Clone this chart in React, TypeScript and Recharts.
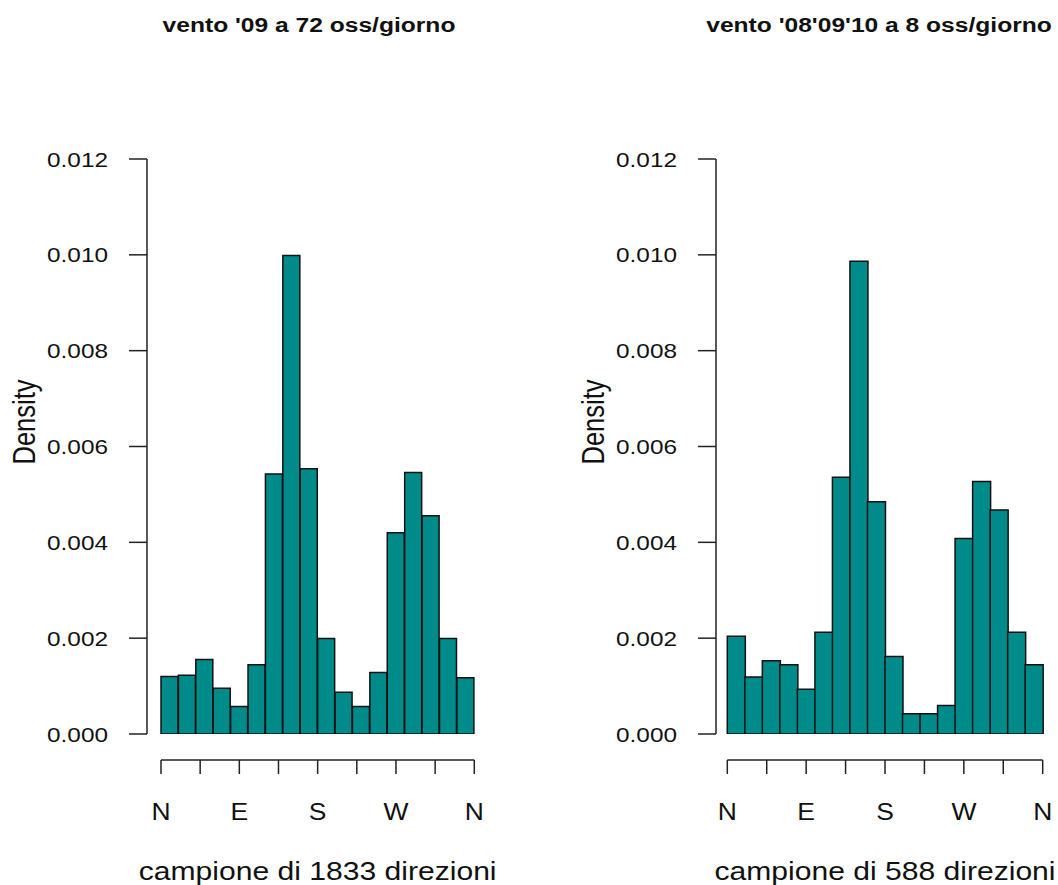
import React from 'react';
import { BarChart, Bar, XAxis, YAxis } from 'recharts';

// ---------- data ----------
const binLabels = [
  '0-20', '20-40', '40-60', '60-80', '80-100', '100-120', '120-140', '140-160', '160-180',
  '180-200', '200-220', '220-240', '240-260', '260-280', '280-300', '300-320', '320-340', '340-360',
];
const degTicks = [0, 45, 90, 135, 180, 225, 270, 315, 360];
const compassLabels: Record<number, string> = { 0: 'N', 90: 'E', 180: 'S', 270: 'W', 360: 'N' };
const densityTicks = [0, 0.002, 0.004, 0.006, 0.008, 0.01, 0.012];

const density1833 = [
  0.0012, 0.001227, 0.001555, 0.000955, 0.000573, 0.001446, 0.005428, 0.009984, 0.005537,
  0.001991, 0.000873, 0.000573, 0.001282, 0.004201, 0.005456, 0.004555, 0.001991, 0.001173,
];
const density588 = [
  0.002041, 0.00119, 0.001531, 0.001446, 0.000935, 0.002126, 0.005357, 0.009864, 0.004847,
  0.001616, 0.000425, 0.000425, 0.000595, 0.004082, 0.005272, 0.004677, 0.002126, 0.001446,
];

const mainTitles = ["vento '09 a 72 oss/giorno", "vento '08'09'10 a 8 oss/giorno"];
const xTitles = ['campione di 1833 direzioni', 'campione di 588 direzioni'];
const yTitle = 'Density';

// ---------- layout ----------
const W = 1058;
const H = 885;
const Y_ZERO = 734;
const Y_TOP_TICK = 159;
const X_AXIS_Y = 760;

const FONT = 'Liberation Sans, Arial, Helvetica, sans-serif';
const INK = '#111';
const LINE = '#222';
const FILL = '#008B8B';

const panels = [
  { data: density1833, axisX: 147, x0: 161, x360: 474.3, title: mainTitles[0], titleX: 309, xTitle: xTitles[0] },
  { data: density588, axisX: 716, x0: 727.3, x360: 1042.7, title: mainTitles[1], titleX: 879, xTitle: xTitles[1] },
];

const DensityTick = (props: any) => {
  const { x, y, payload } = props;
  return (
    <text
      transform={`translate(${x},${y}) scale(1.16,1)`}
      textAnchor="end"
      dy="0.358em"
      fontSize={21}
      fontFamily={FONT}
      fill={INK}
    >
      {Number(payload.value).toFixed(3)}
    </text>
  );
};

const CompassTick = (props: any) => {
  const { x, y, payload } = props;
  const lab = compassLabels[payload.value];
  if (!lab) return <g />;
  return (
    <text
      transform={`translate(${x},${y + 46}) scale(1.15,1)`}
      textAnchor="middle"
      fontSize={23}
      fontFamily={FONT}
      fill={INK}
    >
      {lab}
    </text>
  );
};

function Panel({ data, axisX, x0, x360 }: { data: number[]; axisX: number; x0: number; x360: number }) {
  const rows = binLabels.map((b, i) => ({ bin: b, d: data[i] }));
  const degRows = degTicks.map((d) => ({ deg: d }));
  const padPx = x0 - axisX;
  const plotRight = x360 + padPx;
  const yAxisW = 60;
  const xAxisH = 60;
  return (
    <>
      {/* bars + density axis */}
      <div style={{ position: 'absolute', left: 0, top: 0 }}>
        <BarChart
          width={W}
          height={H}
          data={rows}
          margin={{ top: Y_TOP_TICK, bottom: H - Y_ZERO, left: axisX - yAxisW, right: W - plotRight }}
          barCategoryGap={0}
          barGap={0}
        >
          <XAxis dataKey="bin" type="category" hide padding={{ left: padPx, right: padPx }} />
          <YAxis
            type="number"
            domain={[0, 0.012]}
            allowDataOverflow
            ticks={densityTicks}
            interval={0}
            width={yAxisW}
            stroke={LINE}
            axisLine={{ stroke: LINE, strokeWidth: 1.5 }}
            tickLine={{ stroke: LINE, strokeWidth: 1.5 }}
            tickSize={18}
            tickMargin={21}
            tick={(p: any) => <DensityTick {...p} />}
          />
          <Bar dataKey="d" fill={FILL} stroke={INK} strokeWidth={1.5} isAnimationActive={false} />
        </BarChart>
      </div>
      {/* direction axis */}
      <div style={{ position: 'absolute', left: 0, top: 0 }}>
        <BarChart
          width={W}
          height={H}
          data={degRows}
          margin={{ top: 100, bottom: H - X_AXIS_Y - xAxisH, left: x0, right: W - x360 }}
        >
          <XAxis
            dataKey="deg"
            type="number"
            domain={[0, 360]}
            allowDataOverflow
            ticks={degTicks}
            interval={0}
            height={xAxisH}
            stroke={LINE}
            axisLine={{ stroke: LINE, strokeWidth: 1.5 }}
            tickLine={{ stroke: LINE, strokeWidth: 1.5 }}
            tickSize={14}
            tickMargin={0}
            tick={(p: any) => <CompassTick {...p} />}
          />
          <YAxis hide />
        </BarChart>
      </div>
    </>
  );
}

export default function App() {
  return (
    <div style={{ position: 'absolute', left: 0, top: 0, width: W, height: H, background: '#fff', overflow: 'hidden' }}>
      {panels.map((p, i) => (
        <Panel key={i} data={p.data} axisX={p.axisX} x0={p.x0} x360={p.x360} />
      ))}
      <svg width={W} height={H} style={{ position: 'absolute', left: 0, top: 0, pointerEvents: 'none' }}>
        {panels.map((p, i) => (
          <g key={i}>
            <text
              transform={`translate(${p.titleX},32) scale(1.23,1)`}
              textAnchor="middle"
              fontSize={20}
              fontWeight="bold"
              fontFamily={FONT}
              fill={INK}
            >
              {p.title}
            </text>
            <text
              transform={`translate(${(p.x0 + p.x360) / 2},880) scale(1.18,1)`}
              textAnchor="middle"
              fontSize={25.5}
              fontFamily={FONT}
              fill={INK}
            >
              {p.xTitle}
            </text>
            <text
              transform={`translate(${p.axisX - 112},422) scale(1.2,1) rotate(-90)`}
              textAnchor="middle"
              fontSize={25.5}
              fontFamily={FONT}
              fill={INK}
            >
              {yTitle}
            </text>
          </g>
        ))}
      </svg>
    </div>
  );
}
